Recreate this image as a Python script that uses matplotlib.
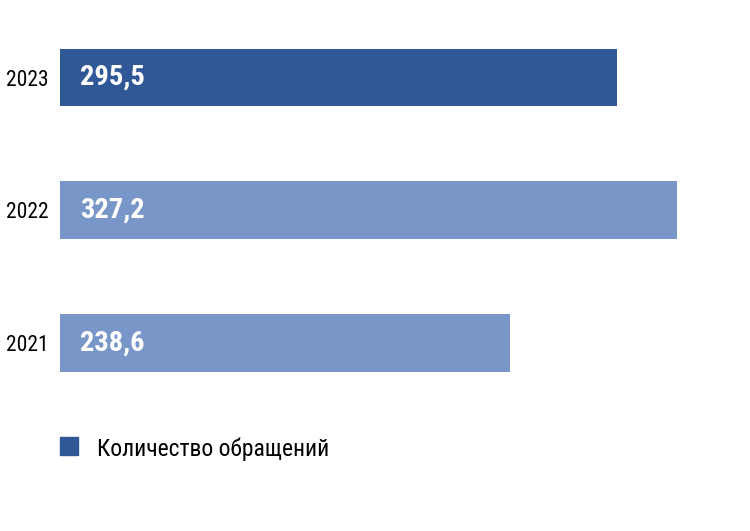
import matplotlib.pyplot as plt
from matplotlib.patches import Rectangle

years = ['2021', '2022', '2023']
values = [238.6, 327.2, 295.5]
labels = ['238,6', '327,2', '295,5']
colors = ['#7896c8', '#7896c8', '#315896']
legend_label = 'Количество обращений'

plt.rcParams['font.family'] = ['Roboto Condensed', 'DejaVu Sans']

fig = plt.figure(figsize=(7.5, 5.31), dpi=100)
ax = fig.add_axes([60 / 750, 0.2288, 690 / 750, 0.7502])

ypos = list(range(len(years)))
ax.barh(ypos, values, height=0.436, color=colors)
ax.set_xlim(0, 366)
ax.set_ylim(-0.5, 2.5)

for y, lab in zip(ypos, labels):
    ax.text(10.5, y, lab, color='white', fontsize=20.5, fontweight='bold',
            va='center', ha='left')

ax.set_yticks(ypos)
ax.set_yticklabels(years, fontsize=15.5)
ax.tick_params(axis='y', length=0, pad=8)
ax.set_xticks([])
for s in ax.spines.values():
    s.set_visible(False)

# legend
fig.patches.append(Rectangle((60 / 750, 1 - 455 / 531), 18 / 750, 18 / 531,
                             transform=fig.transFigure, color='#315896'))
fig.text(97 / 750, 1 - 449 / 531, legend_label, fontsize=17, va='center', ha='left')

fig.savefig('out.png', dpi=100)
